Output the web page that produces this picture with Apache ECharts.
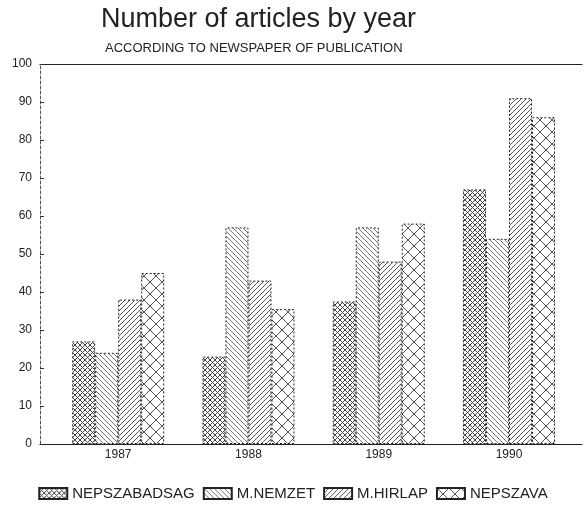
<!DOCTYPE html>
<html>
<head>
<meta charset="utf-8">
<script src="https://cdn.jsdelivr.net/npm/echarts@6/dist/echarts.min.js"></script>
<style>
  html, body { margin: 0; padding: 0; background: #fff; }
  #chart { width: 586px; height: 514px; }
</style>
</head>
<body>
<div id="chart"></div>
<script>
const YEARS = [1987, 1988, 1989, 1990];
const PAPERS = ['NEPSZABADSAG', 'M.NEMZET', 'M.HIRLAP', 'NEPSZAVA'];
const NEPSZABADSAG = [27, 23, 37.5, 67];
const M_NEMZET = [24, 57, 57, 54];
const M_HIRLAP = [38, 43, 48, 91];
const NEPSZAVA = [45, 35.5, 58, 86];
const Y_TICKS = [0, 10, 20, 30, 40, 50, 60, 70, 80, 90, 100];

// hatch fills drawn on small canvases, used as repeating patterns
const makeHatch = (size, color, draw) => {
    const c = document.createElement('canvas');
    c.width = size;
    c.height = size;
    const ctx = c.getContext('2d');
    ctx.fillStyle = '#fff';
    ctx.fillRect(0, 0, size, size);
    ctx.strokeStyle = color;
    ctx.lineWidth = 1;
    ctx.beginPath();
    draw(ctx, size);
    ctx.stroke();
    return { image: c, repeat: 'repeat' };
};
const slash = (ctx, s) => {
    for (const k of [-s, 0, s]) { ctx.moveTo(k, s); ctx.lineTo(k + s, 0); }
};
const backslash = (ctx, s) => {
    for (const k of [-s, 0, s]) { ctx.moveTo(k, 0); ctx.lineTo(k + s, s); }
};
const cross = (ctx, s) => { slash(ctx, s); backslash(ctx, s); };

const FILLS = [
    makeHatch(5, '#444', cross),
    makeHatch(5, '#777', backslash),
    makeHatch(5, '#555', slash),
    makeHatch(12, '#555', cross)
];
const VALUES = [NEPSZABADSAG, M_NEMZET, M_HIRLAP, NEPSZAVA];

const chart = echarts.init(document.getElementById('chart'));

const series = PAPERS.map((name, i) => ({
    name,
    type: 'bar',
    barWidth: 23,
    barGap: '0%',
    itemStyle: {
        color: FILLS[i],
        borderColor: '#222',
        borderWidth: 1,
        borderType: [2, 2]
    },
    data: YEARS.map((y, j) => [y, VALUES[i][j]])
}));

const axisText = { color: '#222', fontSize: 12, fontFamily: 'Liberation Sans' };

chart.setOption({
    animation: false,
    backgroundColor: '#fff',
    title: [
        {
            text: 'Number of articles by year',
            left: 96,
            top: 1,
            textStyle: { color: '#222', fontSize: 27, fontWeight: 'normal', fontFamily: 'Liberation Sans' }
        },
        {
            text: 'ACCORDING TO NEWSPAPER OF PUBLICATION',
            left: 100,
            top: 37,
            textStyle: { color: '#222', fontSize: 13, fontWeight: 'normal', fontFamily: 'Liberation Sans' }
        }
    ],
    legend: {
        data: PAPERS,
        icon: 'rect',
        left: 'center',
        top: 481,
        itemWidth: 28,
        itemHeight: 11,
        itemGap: 8,
        textStyle: { color: '#222', fontSize: 15, fontFamily: 'Liberation Sans' }
    },
    grid: { left: 40, right: 4, top: 64, bottom: 70 },
    xAxis: [
        {
            type: 'value',
            position: 'bottom',
            min: 1986.4,
            max: 1990.56,
            splitLine: { show: false },
            axisTick: { show: false },
            axisLine: { show: true, lineStyle: { color: '#222', width: 1.2 } },
            axisLabel: {
                ...axisText,
                margin: 5,
                customValues: YEARS,
                formatter: (v) => String(v)
            }
        },
        {
            type: 'value',
            position: 'top',
            min: 1986.4,
            max: 1990.56,
            splitLine: { show: false },
            axisTick: { show: false },
            axisLabel: { show: false },
            axisLine: { show: true, lineStyle: { color: '#222', width: 1.2 } }
        }
    ],
    yAxis: {
        type: 'value',
        min: Y_TICKS[0],
        max: Y_TICKS[Y_TICKS.length - 1],
        interval: 10,
        splitLine: { show: false },
        axisLine: { show: true, lineStyle: { color: '#555', type: [3, 2] } },
        axisTick: { show: true, inside: true, length: 4, lineStyle: { color: '#333' } },
        axisLabel: { ...axisText, margin: 8 }
    },
    series
});
</script>
</body>
</html>
